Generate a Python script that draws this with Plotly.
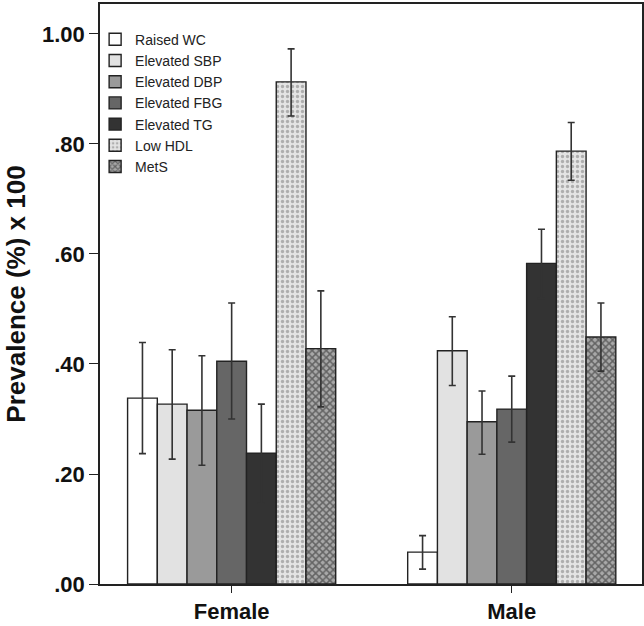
import plotly.graph_objects as go

groups = ["Female", "Male"]
series = ["Raised WC", "Elevated SBP", "Elevated DBP", "Elevated FBG",
          "Elevated TG", "Low HDL", "MetS"]

# prevalence values [Female, Male]
values = {
    "Raised WC":    [0.338, 0.058],
    "Elevated SBP": [0.327, 0.424],
    "Elevated DBP": [0.316, 0.295],
    "Elevated FBG": [0.405, 0.318],
    "Elevated TG":  [0.238, 0.583],
    "Low HDL":      [0.913, 0.787],
    "MetS":         [0.428, 0.449],
}
ci_upper = {
    "Raised WC":    [0.439, 0.088],
    "Elevated SBP": [0.426, 0.486],
    "Elevated DBP": [0.415, 0.351],
    "Elevated FBG": [0.511, 0.378],
    "Elevated TG":  [0.327, 0.645],
    "Low HDL":      [0.973, 0.839],
    "MetS":         [0.533, 0.511],
}
ci_lower = {
    "Raised WC":    [0.237, 0.027],
    "Elevated SBP": [0.227, 0.361],
    "Elevated DBP": [0.216, 0.236],
    "Elevated FBG": [0.300, 0.258],
    "Elevated TG":  [0.147, 0.519],
    "Low HDL":      [0.851, 0.734],
    "MetS":         [0.322, 0.387],
}
tick_vals = [0.0, 0.2, 0.4, 0.6, 0.8, 1.0]
tick_text = [".00", ".20", ".40", ".60", ".80", "1.00"]

styles = {
    "Raised WC":    dict(color="#ffffff"),
    "Elevated SBP": dict(color="#e2e2e2"),
    "Elevated DBP": dict(color="#9a9a9a"),
    "Elevated FBG": dict(color="#666666"),
    "Elevated TG":  dict(color="#333333"),
    "Low HDL":      dict(color="#dcdcdc",
                         pattern=dict(shape=".", fgcolor="#777777", bgcolor="#e4e4e4",
                                      size=5, solidity=0.35, fillmode="overlay")),
    "MetS":         dict(color="#555555",
                         pattern=dict(shape="x", fgcolor="#1e1e1e", bgcolor="#a8a8a8",
                                      size=5, solidity=0.5, fillmode="overlay")),
}

FONT = "Liberation Sans, Arial, sans-serif"

fig = go.Figure()
for s in series:
    v = values[s]
    up = [u - x for u, x in zip(ci_upper[s], v)]
    lo = [x - l for l, x in zip(ci_lower[s], v)]
    st = styles[s]
    marker = dict(color=st["color"], line=dict(color="#222222", width=1.4))
    if "pattern" in st:
        marker["pattern"] = st["pattern"]
    fig.add_trace(go.Bar(
        name=s, x=groups, y=v, marker=marker,
        error_y=dict(type="data", symmetric=False, array=up, arrayminus=lo,
                     color="#333333", thickness=1.6, width=3.5),
    ))

fig.update_layout(
    width=644, height=626,
    margin=dict(l=100, r=2, t=4, b=42),
    paper_bgcolor="white", plot_bgcolor="white",
    barmode="group", bargap=0.257, bargroupgap=0,
    font=dict(family=FONT, color="#111111"),
    showlegend=True,
    legend=dict(x=-0.009, y=0.966, xanchor="left", yanchor="top",
                bgcolor="rgba(255,255,255,0)", borderwidth=0,
                font=dict(size=14, family=FONT, color="#222222"),
                itemwidth=30, tracegroupgap=0),
    xaxis=dict(range=[-0.47, 1.465], showgrid=False, zeroline=False, automargin=False,
               showline=True, linecolor="#222222", linewidth=1.5, mirror=True,
               ticks="outside", ticklen=7, tickcolor="#222222",
               tickfont=dict(size=22, family=FONT, color="#111111", weight="bold")),
    yaxis=dict(range=[0, 1.0545], tickvals=tick_vals, ticktext=tick_text,
               showgrid=False, zeroline=False, automargin=False,
               showline=True, linecolor="#222222", linewidth=1.5, mirror=True,
               ticks="outside", ticklen=9, tickcolor="#222222",
               tickfont=dict(size=22, family=FONT, color="#111111", weight="bold"),
               title=dict(text="Prevalence (%) x 100", standoff=9,
                          font=dict(size=26, family=FONT, color="#111111", weight="bold"))),
)

fig.write_html("out.html", config={"displayModeBar": False},
               post_script="document.body.style.margin='0';document.body.style.padding='0';")
